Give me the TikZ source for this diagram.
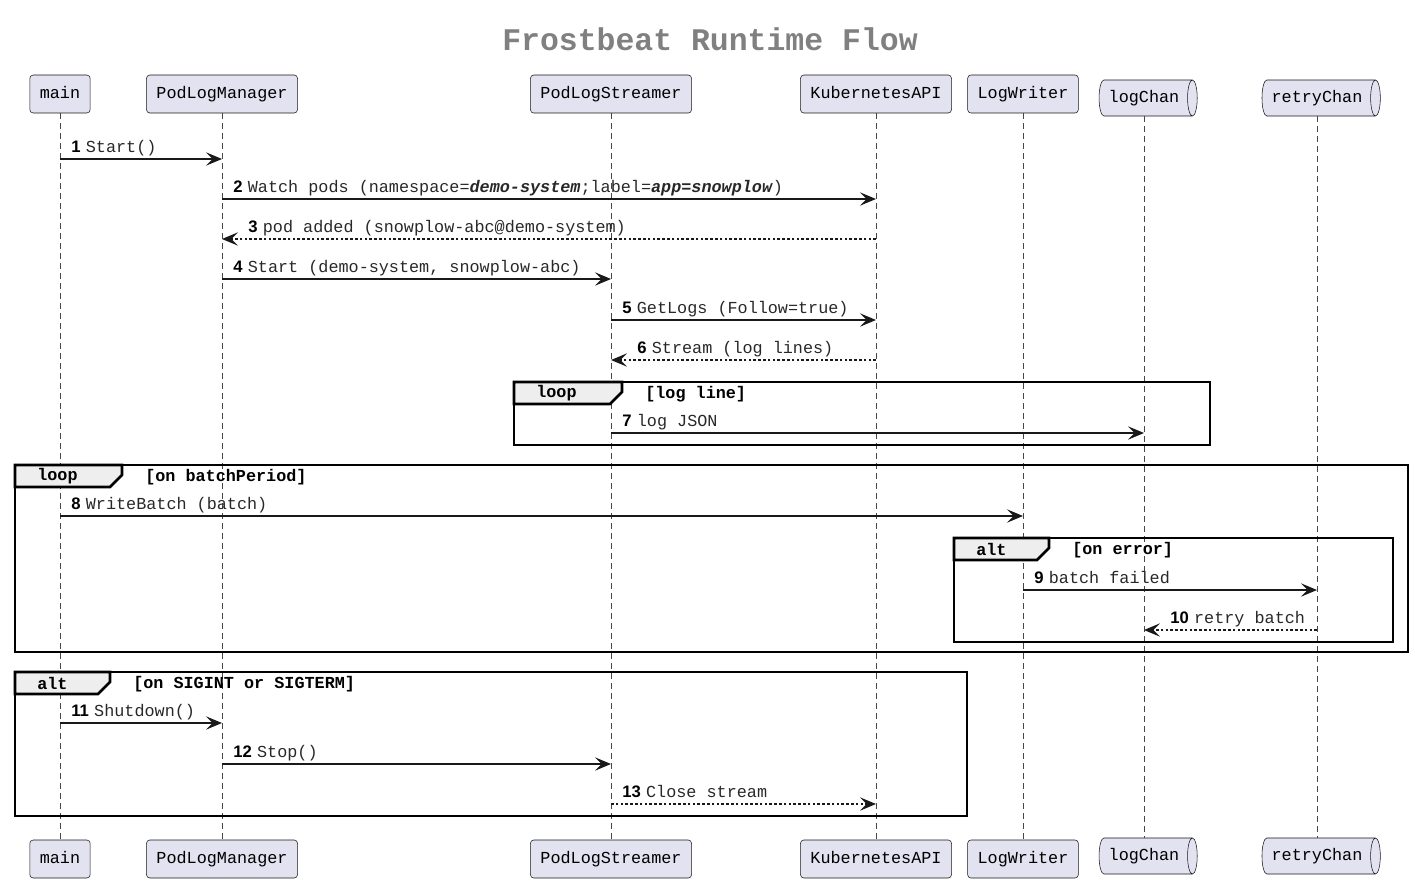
\documentclass[tikz,border=0pt]{standalone}
\usepackage{fontspec}
\setmainfont{Liberation Sans}
\setsansfont{Liberation Sans}
\setmonofont{Liberation Mono}
\usepackage{tikz}
\usetikzlibrary{arrows.meta,shapes.geometric,positioning}
\definecolor{partfill}{RGB}{226,226,240}
\definecolor{partline}{RGB}{24,24,24}
\definecolor{tabfill}{RGB}{238,238,238}
\definecolor{titlegray}{RGB}{128,128,128}
\definecolor{msgtext}{RGB}{40,40,40}
\newcommand{\monofont}{\fontsize{12.6}{15}\ttfamily}
\tikzstyle{participant} = [draw=partline, fill=partfill, rounded corners=2.5pt, minimum height=28.5pt, inner xsep=7.5pt, text height=9pt, text depth=2.5pt, font=\monofont]
\tikzstyle{queue} = [cylinder, aspect=0.4, draw=partline, fill=partfill, minimum width=27pt, inner xsep=6pt, text height=9pt, text depth=2.5pt, font=\monofont]
\tikzstyle{lifeline} = [draw=partline!80, line width=0.7pt, dash pattern=on 4pt off 3.5pt]
\tikzstyle{call} = [line width=0.9pt, draw=black!90, -{Stealth[length=12pt, width=10pt, inset=5pt]}]
\tikzstyle{reply} = [call, dash pattern=on 2pt off 1.6pt]
\tikzstyle{msglabel} = [anchor=base west, inner sep=0pt, font=\monofont, text=msgtext]
\tikzstyle{frameline} = [line width=1.9pt, draw=black]
\tikzstyle{fraglabel} = [anchor=west, inner sep=0pt, font=\monofont\bfseries]
% message: style, from, to, y, label x, number, text
\newcommand{\msg}[7]{%
  \draw[#1] (#2 |- 0,#4) -- (#3 |- 0,#4);
  \node[msglabel] at (#5,#4-7) {{\fontsize{12.5}{14}\sffamily\bfseries\color{black}#6}\hspace{4pt}#7};}
% fragment: x0, y0, x1, y1, tab right, kind, guard
\newcommand{\fragment}[7]{%
  \draw[frameline] (#1,#2) rectangle (#3,#4);
  \draw[frameline, fill=tabfill] (#1,#2) -- (#5,#2) -- (#5,#2+10) -- (#5-12,#2+22) -- (#1,#2+22) -- cycle;
  \node[fraglabel] at (#1+22,#2+11) {#6};
  \node[fraglabel] at (#5+23,#2+12) {[#7]};}

\begin{document}
\begin{tikzpicture}[x=0.75pt, y=-0.75pt]
\useasboundingbox (0,0) rectangle (1415,886);

% title
\node[font=\fontsize{23.6}{28}\ttfamily\bfseries, text=titlegray] (title) at (710,39) {Frostbeat Runtime Flow};

% participants, top
\node[participant] (main) at (60,94) {main};
\node[participant] (plm) at (222,94) {PodLogManager};
\node[participant] (pls) at (611,94) {PodLogStreamer};
\node[participant] (kapi) at (876,94) {KubernetesAPI};
\node[participant] (writer) at (1023,94) {LogWriter};
\node[queue] (logchan) at (1144,98) {logChan};
\node[queue] (retrychan) at (1317,98) {retryChan};

% participants, bottom
\node[participant] (main-b) at (60,859) {main};
\node[participant] (plm-b) at (222,859) {PodLogManager};
\node[participant] (pls-b) at (611,859) {PodLogStreamer};
\node[participant] (kapi-b) at (876,859) {KubernetesAPI};
\node[participant] (writer-b) at (1023,859) {LogWriter};
\node[queue] (logchan-b) at (1144,856) {logChan};
\node[queue] (retrychan-b) at (1317,856) {retryChan};

% lifelines
\foreach \p in {main,plm,pls,kapi,writer,logchan,retrychan}
  \draw[lifeline] (\p.south) -- (\p-b.north);

% fragments
\fragment{514}{382}{1210}{445}{622}{loop}{log line}
\fragment{15}{465}{1408}{652}{122}{loop}{on batchPeriod}
\fragment{954}{538}{1393}{642}{1049}{alt}{on error}
\fragment{15}{672}{967}{816}{110}{alt}{on SIGINT or SIGTERM}

% messages
\msg{call}{main}{plm}{159}{71}{1}{Start()}
\msg{call}{plm}{kapi}{199}{233}{2}{Watch pods (namespace=\textbf{\textit{demo-system}};label=\textbf{\textit{app=snowplow}})}
\msg{reply}{kapi}{plm}{239}{248}{3}{pod added (snowplow-abc@demo-system)}
\msg{call}{plm}{pls}{279}{233}{4}{Start (demo-system, snowplow-abc)}
\msg{call}{pls}{kapi}{320}{622}{5}{GetLogs (Follow=true)}
\msg{reply}{kapi}{pls}{360}{637}{6}{Stream (log lines)}
\msg{call}{pls}{logchan}{433}{622}{7}{log JSON}
\msg{call}{main}{writer}{516}{71}{8}{WriteBatch (batch)}
\msg{call}{writer}{retrychan}{590}{1034}{9}{batch failed}
\msg{reply}{retrychan}{logchan}{630}{1170}{10}{retry batch}
\msg{call}{main}{plm}{723}{71}{11}{Shutdown()}
\msg{call}{plm}{pls}{764}{233}{12}{Stop()}
\msg{reply}{pls}{kapi}{804}{622}{13}{Close stream}
\end{tikzpicture}
\end{document}
